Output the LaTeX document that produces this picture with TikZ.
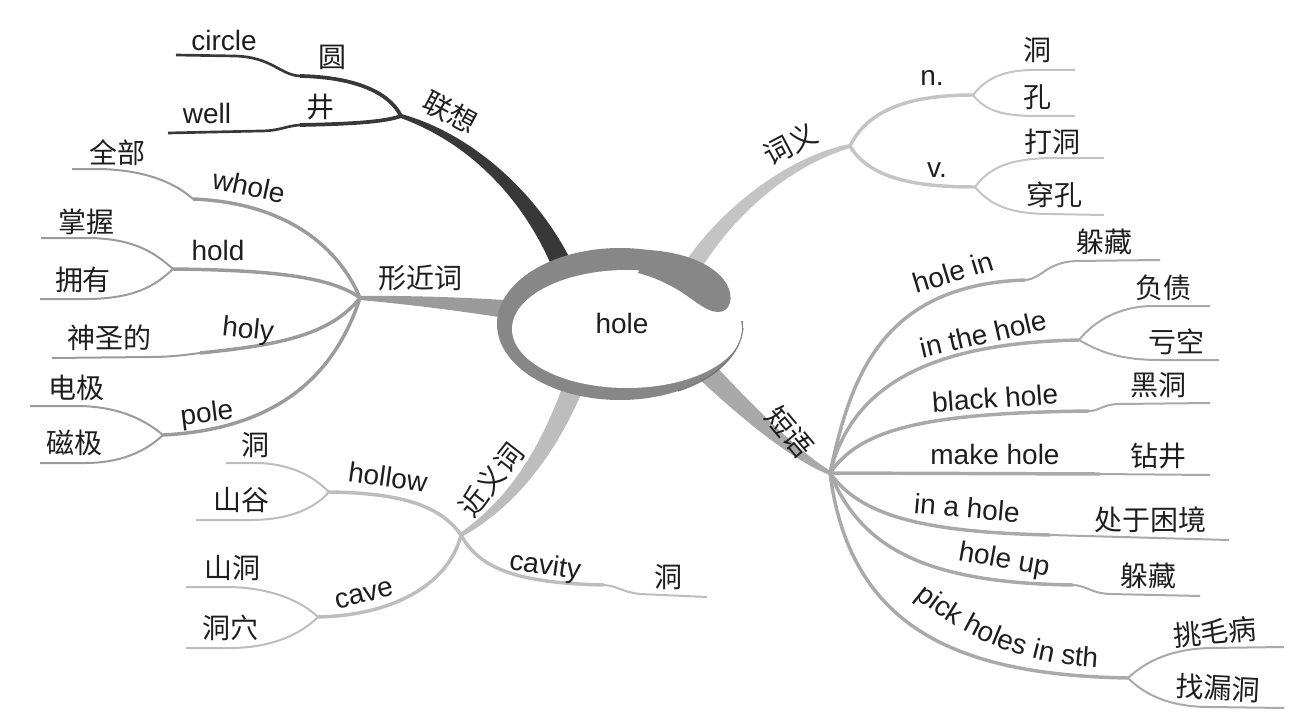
\documentclass[tikz,border=0pt]{standalone}
\usepackage{fontspec}
\setmainfont{Liberation Sans}
\newfontfamily\zhfont{Noto Sans CJK SC}
\usetikzlibrary{calc,decorations.text}
\definecolor{dkc}{HTML}{383838}
\definecolor{ringc}{HTML}{878787}
\definecolor{ringd}{HTML}{626262}
\definecolor{xjc}{HTML}{9B9B9B}
\definecolor{cyc}{HTML}{C4C4C4}
\definecolor{jyc}{HTML}{BDBDBD}
\definecolor{dyc}{HTML}{A9A9A9}
\definecolor{txt}{HTML}{1E1E1E}
\newcommand\mmtaper[7]{%
  \pgfmathsetmacro\tpa{(2*#6+#7)/3}%
  \pgfmathsetmacro\tpb{(#6+2*#7)/3}%
  \fill[#1] ($(#2)!#6pt!90:(#3)$) .. controls ($(#3)!\tpa pt!-90:(#2)$) and ($(#4)!\tpb pt!90:(#5)$) .. ($(#5)!#7pt!-90:(#4)$)
    -- ($(#5)!#7pt!90:(#4)$) .. controls ($(#4)!\tpb pt!-90:(#5)$) and ($(#3)!\tpa pt!90:(#2)$) .. ($(#2)!#6pt!-90:(#3)$) -- cycle;}
\begin{document}
\begin{tikzpicture}[x=0.75pt,y=-0.75pt,
  en/.style={font=\fontsize{21}{25}\selectfont, text=txt, inner sep=0pt},
  zh/.style={font=\zhfont\fontsize{21}{25}\selectfont, text=txt, inner sep=0pt},
  lv2/.style={line width=2.6pt},
  leaf/.style={line width=1.5pt},
  dk/.style={draw=dkc},
  xj/.style={draw=xjc},
  cy/.style={draw=cyc},
  jy/.style={draw=jyc},
  dy/.style={draw=dyc}]
\path[use as bounding box] (0,0) rectangle (1307,724);

% hubs and branch ends
\coordinate (LX) at (401,116);
\coordinate (CY) at (850,146);
\coordinate (XJ) at (360,298);
\coordinate (JY) at (461,535);
\coordinate (DY) at (830,473);
\coordinate (eLX) at (562,265);
\coordinate (eCY) at (690,270);
\coordinate (eXJ) at (515,310);
\coordinate (eJY) at (572,390);
\coordinate (eDY) at (705,370);

% ---- 联想
\coordinate (kC) at (300,76);  \coordinate (tC) at (176,55);
\coordinate (kW) at (300,125); \coordinate (tW) at (168,133);
\draw[dk,line width=2.8pt] (LX) .. controls (388,90) and (350,77) .. (kC);
\draw[dk,line width=2pt] (kC) .. controls (280,75) and (272,57) .. (235,56) -- (tC);
\draw[dk,line width=2.8pt] (LX) .. controls (385,122) and (350,124) .. (kW);
\draw[dk,line width=2pt] (kW) .. controls (285,126) and (280,131) .. (260,131) -- (tW);

% ---- 形近词
\coordinate (kWh) at (193,199); \coordinate (tWh) at (72,169);
\coordinate (kHo) at (173,269); \coordinate (tHo1) at (41,238); \coordinate (tHo2) at (40,299);
\coordinate (kHy) at (200,353); \coordinate (tHy) at (52,358);
\coordinate (kP) at (163,435);  \coordinate (tP1) at (30,406); \coordinate (tP2) at (40,463);
\draw[xj,lv2] (XJ) .. controls (340,250) and (290,203) .. (kWh);
\draw[xj,leaf] (kWh) .. controls (172,180) and (140,170) .. (100,169) -- (tWh);
\draw[xj,lv2] (XJ) .. controls (330,275) and (260,270) .. (kHo);
\draw[xj,leaf] (kHo) .. controls (155,253) and (135,239) .. (90,238) -- (tHo1);
\draw[xj,leaf] (kHo) .. controls (155,286) and (135,298) .. (90,299) -- (tHo2);
\draw[xj,lv2] (XJ) .. controls (330,335) and (280,345) .. (kHy);
\draw[xj,leaf] (kHy) .. controls (185,355) and (170,357) .. (150,357) -- (tHy);
\draw[xj,lv2] (XJ) .. controls (330,390) and (260,430) .. (kP);
\draw[xj,leaf] (kP) .. controls (145,420) and (120,407) .. (80,406) -- (tP1);
\draw[xj,leaf] (kP) .. controls (145,452) and (120,463) .. (85,463) -- (tP2);

% ---- 近义词
\coordinate (kHl) at (329,492); \coordinate (tHl1) at (226,463); \coordinate (tHl2) at (196,520);
\coordinate (kCv) at (318,617); \coordinate (tCv1) at (186,587); \coordinate (tCv2) at (186,648);
\coordinate (kCa) at (604,585); \coordinate (tCa) at (707,597);
\draw[jy,lv2] (JY) .. controls (440,505) and (400,493) .. (kHl);
\draw[jy,leaf] (kHl) .. controls (315,478) and (295,465) .. (260,463) -- (tHl1);
\draw[jy,leaf] (kHl) .. controls (315,508) and (290,520) .. (250,520) -- (tHl2);
\draw[jy,lv2] (JY) .. controls (450,580) and (400,615) .. (kCv);
\draw[jy,leaf] (kCv) .. controls (300,600) and (270,588) .. (230,587) -- (tCv1);
\draw[jy,leaf] (kCv) .. controls (300,635) and (270,648) .. (230,648) -- (tCv2);
\draw[jy,lv2] (JY) .. controls (480,570) and (520,583) .. (kCa);
\draw[jy,leaf] (kCa) .. controls (618,586) and (622,592) .. (640,594) -- (tCa);

% ---- 词义
\coordinate (kN) at (973,95); \coordinate (tN1) at (1075,70); \coordinate (tN2) at (1075,116);
\coordinate (kV) at (975,187); \coordinate (tV1) at (1104,158); \coordinate (tV2) at (1104,215);
\draw[cy,lv2] (CY) .. controls (870,105) and (920,95) .. (kN);
\draw[cy,leaf] (kN) .. controls (985,80) and (1000,71) .. (1030,70) -- (tN1);
\draw[cy,leaf] (kN) .. controls (985,110) and (1000,115) .. (1030,116) -- (tN2);
\draw[cy,lv2] (CY) .. controls (870,180) and (920,187) .. (kV);
\draw[cy,leaf] (kV) .. controls (990,167) and (1010,159) .. (1050,158) -- (tV1);
\draw[cy,leaf] (kV) .. controls (990,205) and (1010,214) .. (1050,214) -- (tV2);

% ---- 短语
\coordinate (kHi) at (1025,280); \coordinate (tHi) at (1160,260);
\coordinate (kIh) at (1079,340); \coordinate (tIh1) at (1210,306); \coordinate (tIh2) at (1219,360);
\coordinate (kBh) at (1089,411); \coordinate (tBh) at (1210,403);
\coordinate (kMh) at (1100,474); \coordinate (tMh) at (1210,475);
\coordinate (kIa) at (1050,535); \coordinate (tIa) at (1229,540);
\coordinate (kHu) at (1073,585); \coordinate (tHu) at (1200,596);
\coordinate (kPk) at (1128,678); \coordinate (tPk1) at (1284,647); \coordinate (tPk2) at (1284,708);
\draw[dy,lv2] (DY) .. controls (850,380) and (880,285) .. (kHi);
\draw[dy,leaf] (kHi) .. controls (1042,279) and (1045,263) .. (1075,261) -- (tHi);
\draw[dy,lv2] (DY) .. controls (852,385) and (930,343) .. (kIh);
\draw[dy,leaf] (kIh) .. controls (1095,320) and (1120,307) .. (1150,306) -- (tIh1);
\draw[dy,leaf] (kIh) .. controls (1100,352) and (1120,360) .. (1160,360) -- (tIh2);
\draw[dy,lv2] (DY) .. controls (860,430) and (920,413) .. (kBh);
\draw[dy,leaf] (kBh) .. controls (1100,411) and (1102,404) .. (1120,404) -- (tBh);
\draw[dy,lv2] (DY) -- (kMh);
\draw[dy,leaf] (kMh) -- (tMh);
\draw[dy,lv2] (DY) .. controls (860,515) and (920,532) .. (kIa);
\draw[dy,leaf] (kIa) -- (tIa);
\draw[dy,lv2] (DY) .. controls (860,545) and (920,583) .. (kHu);
\draw[dy,leaf] (kHu) .. controls (1088,586) and (1090,593) .. (1110,594) -- (tHu);
\draw[dy,lv2] (DY) .. controls (850,630) and (960,675) .. (kPk);
\draw[dy,leaf] (kPk) .. controls (1145,662) and (1170,649) .. (1210,648) -- (tPk1);
\draw[dy,leaf] (kPk) .. controls (1145,695) and (1170,707) .. (1210,707) -- (tPk2);

% ---- main tapered branches
\mmtaper{dkc}{LX}{470,138}{530,195}{eLX}{1.5}{7.5}
\mmtaper{cyc}{CY}{800,158}{735,200}{eCY}{1.5}{6.5}
\mmtaper{xjc}{XJ}{410,300}{460,304}{eXJ}{1.5}{7}
\mmtaper{jyc}{JY}{500,510}{540,470}{eJY}{1.5}{7.5}
\mmtaper{dyc}{DY}{800,458}{760,425}{eDY}{1.5}{8}

% ---- central ring
\fill[ringc] (620,324) ellipse [x radius=123, y radius=76];
\fill[white] (627,329) ellipse [x radius=115, y radius=59];
\fill[white] (712,262) rectangle (760,320.5);
\fill[ringc] (648,250) .. controls (685,252) and (715,265) .. (726,283)
  .. controls (735,298) and (730,312) .. (718,312)
  .. controls (705,312) and (690,296) .. (673,287)
  .. controls (662,281) and (650,276) .. (638,273) -- cycle;
\draw[ringd, line width=0.9pt, opacity=0.7] (743,328) arc [start angle=3, end angle=62, x radius=123, y radius=76];
\node[en] (hole) at (622,323) {hole};

% ---- labels 联想
\node[en] (circle) at (224,40) {circle};
\node[zh] (yuan) at (332,57) {圆};
\node[en] (well) at (207,113) {well};
\node[zh] (jing) at (320,107) {井};
\node[zh, rotate=-28] (lianxiang) at (450,112) {联想};

% ---- labels 形近词
\node[zh] (quanbu) at (117,153) {全部};
\node[en, rotate=-12] (whole) at (249,186) {whole};
\node[zh] (zhangwo) at (86,222) {掌握};
\node[en] (hold) at (218,250) {hold};
\node[zh] (yongyou) at (83,280) {拥有};
\node[zh] (xingjinci) at (420,278) {形近词};
\node[zh] (shensheng) at (109,338) {神圣的};
\node[en, rotate=-6] (holy) at (248,331) {holy};
\node[zh] (dianji) at (76,388) {电极};
\node[en, rotate=7] (pole) at (207,415) {pole};
\node[zh] (ciji) at (74,443) {磁极};

% ---- labels 近义词
\node[zh] (dong1) at (255,445) {洞};
\node[en, rotate=-8] (hollow) at (388,477) {hollow};
\node[zh] (shangu) at (241,500) {山谷};
\node[zh, rotate=52] (jinyici) at (491,480) {近义词};
\node[zh] (shandong) at (232,568) {山洞};
\node[en, rotate=14] (cave) at (364,595) {cave};
\node[zh] (dongxue) at (230,628) {洞穴};
\node[en, rotate=-8] (cavity) at (545,567) {cavity};
\node[zh] (dong2) at (668,577) {洞};

% ---- labels 词义
\node[zh, rotate=28] (ciyi) at (790,144) {词义};
\node[en] (nn) at (932,78) {n.};
\node[zh] (dong3) at (1037,50) {洞};
\node[zh] (kong) at (1037,97) {孔};
\node[zh] (dadong) at (1052,142) {打洞};
\node[en] (vv) at (937,170) {v.};
\node[zh] (chuankong) at (1054,195) {穿孔};

% ---- labels 短语
\node[zh, rotate=-50] (duanyu) at (790,432) {短语};
\node[en, rotate=17] (holein) at (953,272) {hole in};
\node[zh] (duocang1) at (1104,242) {躲藏};
\node[en, rotate=13] (inthehole) at (983,334) {in the hole};
\node[zh] (fuzhai) at (1163,288) {负债};
\node[zh] (kuikong) at (1176,342) {亏空};
\node[en, rotate=4] (blackhole) at (995,398) {black hole};
\node[zh] (heidong) at (1158,385) {黑洞};
\node[en] (makehole) at (995,454) {make hole};
\node[zh] (zuanjing) at (1158,456) {钻井};
\node[en, rotate=-5] (inahole) at (967,508) {in a hole};
\node[zh] (chuyu) at (1150,520) {处于困境};
\node[en, rotate=-10] (holeup) at (1004,561) {hole up};
\node[zh] (duocang2) at (1148,576) {躲藏};
\path[decorate, decoration={text along path, text color=txt,
  text={|\fontsize{21}{25}\selectfont|pick holes in sth}}]
  (915,597) .. controls (960,635) and (1020,665) .. (1105,668);
\node[zh, rotate=5] (tiaomaobing) at (1215,632) {挑毛病};
\node[zh, rotate=-3] (zhaoloudong) at (1218,688) {找漏洞};
\end{tikzpicture}
\end{document}
